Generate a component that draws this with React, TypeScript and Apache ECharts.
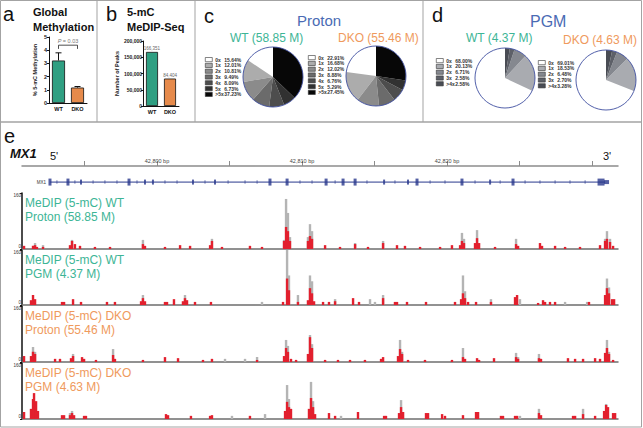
import React, { useEffect, useRef } from 'react';
import * as echarts from 'echarts';

// ---------------- data ----------------
const methCategories = ['WT', 'DKO'];
const methMeans = [3.22, 1.17];
const methUpper = [3.8, 1.25];
const methPValue = '0.03';
const methBracket = [4.1, 4.38];

const peakCategories = ['WT', 'DKO'];
const peakCounts = [166351, 84404];

const protonNames = ['0x', '1x', '2x', '3x', '4x', '5x', '>5x'];
const protonWT = [15.64, 12.01, 10.81, 9.49, 8.09, 6.73, 37.23];
const protonDKO = [22.91, 16.68, 12.02, 8.88, 6.76, 5.29, 27.45];
const pgmNames = ['0x', '1x', '2x', '3x', '>4x'];
const pgmWT = [68.0, 20.13, 6.71, 2.58, 2.58];
const pgmDKO = [69.01, 18.53, 6.48, 2.7, 3.28];

// genomic axis, offsets from 42,800
const genomeOrigin = 42800;
const genomeRange = [-9.31, 31.79];
const rulerTicks = [-5, 0, 5, 10, 15, 20, 25, 30];
const rulerLabels = [0, 10, 20];

const geneSpan = [-7.38, 30.9];
const majorExons = [-7.38, -6.14, -1.93, 7.79, 8.97, 11.66, 12.83, 13.66, 17.93, 21.03, 24.55];
const minorExons = [-5.24, -0.83, -0.28, 2.48, 4.0, 15.66, 17.31, 22.97];
const utrBlocks = [30.62];
const utrTail = [31.0];
const intronMarks = [-6.9, -5.66, -4.41, -3.59, -2.76, -1.38, 0.55, 1.38, 3.31, 4.9, 6.07, 6.9, 9.86, 10.69, 12.28, 14.48, 16.41, 18.83, 19.86, 21.93, 23.66, 25.38, 26.41, 27.45, 28.48, 29.52];

// [position, red signal, grey signal]
const wtProtonPeaks: number[][] = [
  [-9.17, 9, 0], [-8.55, 9, 0], [-8.41, 11, 17], [-8.28, 6, 0], [-7.86, 6, 11],
  [-6.0, 11, 0], [-5.86, 23, 26], [-5.66, 14, 0], [-5.31, 9, 0], [-4.28, 6, 0],
  [-3.24, 6, 0], [-0.97, 14, 26], [-0.83, 9, 0], [0.55, 6, 0], [1.59, 11, 0],
  [2.28, 9, 0], [3.66, 11, 0], [3.79, 23, 29], [4.48, 6, 0], [6.41, 9, 0],
  [7.24, 6, 0], [8.76, 23, 26], [8.9, 63, 143], [9.03, 51, 103], [9.17, 23, 34],
  [10.41, 23, 34], [10.55, 37, 71], [10.69, 29, 51], [11.59, 11, 0], [12.62, 6, 0],
  [13.66, 14, 17], [14.55, 6, 0], [15.59, 17, 23], [16.55, 11, 0], [17.1, 9, 0],
  [18.14, 6, 0], [19.52, 6, 0], [20.34, 11, 0], [20.9, 11, 0], [21.03, 23, 46],
  [21.17, 17, 29], [21.93, 17, 0], [22.07, 31, 54], [22.21, 17, 0], [23.31, 6, 0],
  [24.76, 14, 29], [24.9, 9, 0], [26.41, 17, 0], [26.55, 9, 0], [27.45, 9, 0],
  [28.14, 6, 0], [29.17, 6, 0], [30.55, 11, 0], [30.9, 23, 29], [31.03, 29, 51],
  [31.24, 20, 29], [31.45, 9, 0],
];
const wtPgmPeaks: number[][] = [
  [-8.69, 14, 0], [-8.55, 29, 0], [-8.41, 17, 0], [-6.55, 9, 0], [-6.41, 9, 0],
  [-5.79, 17, 0], [-5.24, 9, 0], [-3.45, 9, 0], [-2.9, 9, 0], [-1.1, 11, 0],
  [-0.97, 20, 29], [-0.83, 11, 0], [0.55, 9, 0], [0.69, 9, 0], [1.17, 17, 0],
  [1.79, 11, 0], [1.93, 20, 29], [2.07, 14, 0], [2.62, 9, 0], [3.72, 9, 0],
  [7.24, 0, 9], [8.69, 9, 0], [8.97, 77, 160], [9.1, 43, 86], [9.72, 9, 29],
  [10.41, 14, 0], [10.55, 49, 86], [10.69, 34, 69], [10.83, 11, 0], [11.45, 9, 0],
  [11.86, 9, 0], [12.28, 11, 17], [13.52, 20, 0], [13.93, 9, 0], [14.69, 0, 17],
  [15.03, 0, 9], [15.59, 20, 29], [16.41, 9, 0], [16.55, 9, 0], [17.24, 9, 0],
  [18.55, 9, 0], [20.55, 9, 0], [20.97, 17, 0], [21.1, 34, 86], [21.24, 20, 40],
  [21.45, 9, 0], [22.0, 9, 0], [23.03, 9, 17], [24.69, 23, 0], [24.83, 29, 0],
  [25.03, 0, 17], [26.28, 6, 0], [26.62, 14, 0], [26.76, 9, 0], [27.1, 9, 0],
  [27.45, 9, 0], [28.14, 0, 9], [29.66, 0, 9], [29.79, 9, 0], [30.9, 29, 0],
  [31.03, 49, 77], [31.17, 34, 51], [31.38, 17, 0], [31.52, 17, 0],
];
const dkoProtonPeaks: number[][] = [
  [-9.17, 17, 0], [-8.69, 17, 0], [-8.55, 29, 43], [-8.41, 23, 29], [-7.03, 9, 0],
  [-6.69, 9, 0], [-5.93, 11, 0], [-5.79, 17, 23], [-5.17, 14, 0], [-5.03, 9, 0],
  [-4.21, 6, 0], [-3.03, 20, 37], [-2.9, 9, 0], [-0.97, 6, 0], [0.55, 14, 0],
  [1.45, 11, 0], [3.17, 6, 0], [3.79, 9, 0], [4.69, 0, 9], [6.07, 0, 9],
  [6.9, 6, 14], [8.76, 17, 0], [8.9, 40, 63], [9.03, 29, 46], [9.24, 9, 0],
  [9.59, 6, 0], [10.41, 23, 0], [10.55, 71, 77], [10.69, 40, 51], [11.59, 6, 0],
  [12.48, 6, 0], [13.31, 6, 0], [14.34, 6, 0], [15.45, 9, 0], [15.59, 14, 0],
  [16.62, 17, 0], [16.76, 37, 63], [16.9, 23, 29], [17.31, 6, 0], [18.48, 6, 0],
  [20.34, 6, 0], [21.1, 14, 40], [21.24, 9, 0], [22.07, 11, 0], [22.21, 6, 0],
  [23.24, 11, 0], [24.76, 14, 26], [24.9, 9, 14], [26.34, 11, 23], [26.48, 9, 0],
  [28.34, 11, 0], [28.83, 9, 0], [29.38, 9, 0], [30.21, 11, 0], [30.55, 9, 0],
  [30.9, 26, 0], [31.03, 40, 63], [31.17, 23, 29], [31.45, 6, 0],
];
const dkoPgmPeaks: number[][] = [
  [-9.17, 20, 0], [-8.69, 29, 0], [-8.55, 57, 0], [-8.48, 74, 0], [-8.34, 51, 0],
  [-8.21, 23, 0], [-6.55, 11, 0], [-6.41, 11, 0], [-6.0, 11, 17], [-5.86, 17, 23],
  [-5.72, 11, 0], [-5.03, 9, 0], [-4.9, 9, 0], [0.62, 14, 0], [0.76, 11, 0],
  [2.34, 9, 0], [3.66, 9, 0], [3.79, 11, 0], [5.17, 0, 9], [6.41, 9, 0],
  [7.45, 0, 14], [8.83, 23, 0], [8.97, 49, 97], [9.1, 34, 57], [9.24, 29, 0],
  [10.48, 29, 0], [10.62, 60, 106], [10.76, 34, 51], [10.9, 14, 0], [11.86, 17, 0],
  [12.28, 9, 0], [12.69, 0, 9], [13.86, 20, 0], [15.66, 9, 0], [15.79, 9, 0],
  [16.69, 17, 0], [16.83, 34, 54], [16.97, 20, 0], [18.55, 17, 0], [18.69, 17, 0],
  [19.66, 14, 0], [19.86, 9, 0], [21.1, 11, 0], [22.0, 20, 0], [22.14, 20, 0],
  [23.72, 9, 0], [23.86, 9, 0], [24.69, 9, 0], [24.83, 9, 0], [25.03, 0, 9],
  [26.34, 17, 29], [26.48, 11, 0], [28.69, 9, 0], [28.83, 9, 0], [29.38, 14, 29],
  [30.21, 9, 0], [30.83, 23, 0], [30.97, 40, 43], [31.1, 34, 0], [31.45, 17, 0],
  [31.59, 17, 0],
];
const trackMax = 160;
const trackTitles = [
  ['MeDIP (5-mC) WT', 'Proton (58.85 M)'],
  ['MeDIP (5-mC) WT', 'PGM (4.37 M)'],
  ['MeDIP (5-mC) DKO', 'Proton (55.46 M)'],
  ['MeDIP (5-mC) DKO', 'PGM (4.63 M)'],
];

// ---------------- styles ----------------
const FONT = '"Liberation Sans", Arial, Helvetica, sans-serif';
const WT_BAR = '#2f9f82';
const DKO_BAR = '#e68a4b';
const WT_TEXT = '#3db596';
const DKO_TEXT = '#ef9a5d';
const TITLE_BLUE = '#4a6bb4';
const GENE_BLUE = '#28378c';
const SIG_RED = '#e2202e';
const SIG_GRAY = '#b4b4b4';
const BORDER = '#a3a3a3';
const protonColors = ['#ffffff', '#acacac', '#8b8b8b', '#6b6b6b', '#4d4d4d', '#313131', '#070707'];
const pgmColors = ['#ffffff', '#a9abb0', '#85888f', '#5d6068', '#494c54'];

const trackTops = [193, 250, 306, 363];
const trackHeights = [56, 55, 56, 56];
const allTracks = [wtProtonPeaks, wtPgmPeaks, dkoProtonPeaks, dkoPgmPeaks];
const trackColors = [WT_TEXT, WT_TEXT, DKO_TEXT, DKO_TEXT];

function txt(text: string, x: number, y: number, font: string, fill = '#111', align = 'left') {
  return { type: 'text', x, y, silent: true, style: { text, font, fill, align, verticalAlign: 'middle' } };
}

function pieLegend(names: string[], pct: number[], colors: string[], left: number, top: number) {
  return {
    orient: 'vertical', left, top, padding: 0, itemGap: 0.6, itemWidth: 7, itemHeight: 4.2,
    selectedMode: false, icon: 'rect',
    itemStyle: { borderColor: '#333', borderWidth: 0.6 },
    data: names.map((n, i) => ({ name: n, itemStyle: { color: colors[i], borderColor: '#333', borderWidth: 0.6 } })),
    formatter: (name: string) => `{n|${name}}{v|${pct[names.indexOf(name)].toFixed(2)}%}`,
    textStyle: {
      fontFamily: FONT, fontSize: 5, fontWeight: 'bold', color: '#333', lineHeight: 5.2, padding: [0, 0, 0, -2],
      rich: {
        n: { width: 9, fontSize: 5, fontWeight: 'bold', color: '#333', fontFamily: FONT },
        v: { fontSize: 5, fontWeight: 'bold', color: '#333', fontFamily: FONT },
      },
    },
  };
}

function pieSeries(names: string[], values: number[], colors: string[], center: number[]) {
  return [
    {
      type: 'pie', radius: 30, center, startAngle: 90, clockwise: false, silent: true,
      label: { show: false }, labelLine: { show: false },
      data: names.map((n, i) => ({ name: n, value: values[i], itemStyle: { color: colors[i] } })),
      itemStyle: { borderWidth: 0 },
    },
    {
      type: 'pie', radius: 30, center, silent: true, label: { show: false }, labelLine: { show: false },
      data: [{ name: 'outline', value: 1, itemStyle: { color: 'rgba(0,0,0,0)', borderColor: '#3f4fa0', borderWidth: 0.9 } }],
    },
  ];
}

function buildOption(): any {
  const trackGrids = trackTops.map((t, i) => ({ left: 22, top: t, width: 596, height: trackHeights[i] }));
  const trackX = trackTops.map((_, i) => ({
    type: 'value', gridIndex: 3 + i, min: genomeRange[0], max: genomeRange[1],
    axisLine: { show: true, onZero: false, lineStyle: { color: '#6e6e6e', width: 1.5 } },
    axisTick: { show: false }, axisLabel: { show: false }, splitLine: { show: false },
  }));
  const trackY = trackTops.map((_, i) => ({
    type: 'value', gridIndex: 3 + i, min: 0, max: trackMax, interval: trackMax,
    axisLine: { show: true, onZero: false, lineStyle: { color: '#111', width: 1.5 } },
    axisTick: { show: true, length: 2, lineStyle: { color: '#111' } },
    axisLabel: {
      fontSize: 4.5, color: '#333', margin: 1, fontFamily: FONT,
      verticalAlignMinLabel: 'bottom', verticalAlignMaxLabel: 'top',
    },
    splitLine: { show: false },
  }));
  const trackSeries: any[] = [];
  allTracks.forEach((peaks, i) => {
    trackSeries.push({
      type: 'bar', xAxisIndex: 3 + i, yAxisIndex: 3 + i, barWidth: 2.4, barGap: '-100%', silent: true,
      itemStyle: { color: SIG_GRAY }, data: peaks.filter(p => p[2] > 0).map(p => [p[0], p[2]]),
    });
    trackSeries.push({
      type: 'bar', xAxisIndex: 3 + i, yAxisIndex: 3 + i, barWidth: 2.4, barGap: '-100%', silent: true,
      itemStyle: { color: SIG_RED }, data: peaks.filter(p => p[1] > 0).map(p => [p[0], p[1]]),
    });
  });

  const trackLabels: any[] = [];
  trackTops.forEach((t, i) => {
    trackLabels.push(txt(trackTitles[i][0], 25, t + 10, `12px ${FONT}`, trackColors[i]));
    trackLabels.push(txt(trackTitles[i][1], 25, t + 24, `12px ${FONT}`, trackColors[i]));
  });

  const gAxis = { axisLine: { show: true, onZero: false, lineStyle: { color: '#111', width: 1 } }, splitLine: { show: false } };

  return {
    animation: false,
    backgroundColor: '#fff',
    textStyle: { fontFamily: FONT },
    grid: [
      { left: 49, top: 37, width: 38, height: 66 },
      { left: 143, top: 41, width: 36, height: 65 },
      { left: 22, top: 166, width: 596, height: 24 },
      ...trackGrids,
    ],
    xAxis: [
      {
        type: 'category', gridIndex: 0, data: methCategories, ...gAxis,
        axisTick: { show: false },
        axisLabel: { fontSize: 5.5, fontWeight: 'bold', color: '#111', margin: 3 },
      },
      {
        type: 'category', gridIndex: 1, data: peakCategories, ...gAxis,
        axisTick: { show: false },
        axisLabel: { fontSize: 5.5, fontWeight: 'bold', color: '#111', margin: 3 },
      },
      {
        type: 'value', gridIndex: 2, position: 'top', min: genomeRange[0], max: genomeRange[1],
        axisLine: { show: true, onZero: false, lineStyle: { color: '#8c8c8c', width: 1.5 } },
        axisTick: { show: true, customValues: rulerTicks, length: 5, lineStyle: { color: '#8c8c8c', width: 1 } },
        axisLabel: {
          customValues: rulerLabels, fontSize: 5.5, color: '#444', margin: 2,
          formatter: (v: number) => `${(genomeOrigin + v).toLocaleString('en-US')} bp`,
        },
        splitLine: { show: false },
      },
      ...trackX,
    ],
    yAxis: [
      {
        type: 'value', gridIndex: 0, min: 0, max: 5, interval: 1, ...gAxis,
        axisTick: { show: true, length: 2, lineStyle: { color: '#111' } },
        axisLabel: { fontSize: 5.5, fontWeight: 'bold', color: '#222', margin: 2 },
        name: '% 5-mC Methylation', nameLocation: 'middle', nameGap: 11,
        nameTextStyle: { fontSize: 5.5, fontWeight: 'bold', color: '#222' },
      },
      {
        type: 'value', gridIndex: 1, min: 0, max: 200000, interval: 50000, ...gAxis,
        axisTick: { show: true, length: 2, lineStyle: { color: '#111' } },
        axisLabel: { fontSize: 5, fontWeight: 'bold', color: '#222', margin: 1, formatter: (v: number) => v.toLocaleString('en-US') },
        name: 'Number of Peaks', nameLocation: 'middle', nameGap: 23,
        nameTextStyle: { fontSize: 5.5, fontWeight: 'bold', color: '#222' },
      },
      { type: 'value', gridIndex: 2, min: 0, max: 1, show: false },
      ...trackY,
    ],
    legend: [
      pieLegend(protonNames, protonWT, protonColors, 205, 57),
      pieLegend(protonNames, protonDKO, protonColors, 308, 55),
      pieLegend(pgmNames, pgmWT, pgmColors, 436, 58),
      pieLegend(pgmNames, pgmDKO, pgmColors, 538, 60),
    ],
    series: [
      {
        type: 'bar', xAxisIndex: 0, yAxisIndex: 0, barWidth: 13, silent: true,
        data: methMeans.map((v, i) => ({ value: v, itemStyle: { color: i === 0 ? WT_BAR : DKO_BAR, borderColor: '#111', borderWidth: 0.8 } })),
      },
      {
        type: 'custom', xAxisIndex: 0, yAxisIndex: 0, silent: true, z: 5,
        data: methMeans.map((m, i) => [i, m, methUpper[i]]),
        encode: { x: 0, y: [1, 2] },
        renderItem: (params: any, api: any) => {
          const lo = api.coord([api.value(0), api.value(1)]);
          const hi = api.coord([api.value(0), api.value(2)]);
          const st = { stroke: '#111', lineWidth: 1 };
          return {
            type: 'group', children: [
              { type: 'line', shape: { x1: lo[0], y1: lo[1], x2: hi[0], y2: hi[1] }, style: st },
              { type: 'line', shape: { x1: hi[0] - 3, y1: hi[1], x2: hi[0] + 3, y2: hi[1] }, style: st },
            ],
          };
        },
      },
      {
        type: 'custom', xAxisIndex: 0, yAxisIndex: 0, silent: true, z: 5,
        data: [[0, 1, methBracket[0], methBracket[1]]],
        encode: { x: [0, 1], y: [2, 3] },
        renderItem: (params: any, api: any) => {
          const a0 = api.coord([api.value(0), api.value(2)]);
          const a1 = api.coord([api.value(0), api.value(3)]);
          const b1 = api.coord([api.value(1), api.value(3)]);
          const b0 = api.coord([api.value(1), api.value(2)]);
          return {
            type: 'group', children: [
              { type: 'polyline', shape: { points: [a0, a1, b1, b0] }, style: { stroke: '#222', lineWidth: 0.8, fill: 'none' } },
              {
                type: 'text', style: {
                  text: `{i|P} = ${methPValue}`, x: (a1[0] + b1[0]) / 2, y: a1[1] - 1.5, align: 'center', verticalAlign: 'bottom',
                  fill: '#777', font: `5.5px ${FONT}`, rich: { i: { fontStyle: 'italic', fontSize: 5.5, fill: '#777' } },
                },
              },
            ],
          };
        },
      },
      {
        type: 'bar', xAxisIndex: 1, yAxisIndex: 1, barWidth: 12, silent: true,
        label: { show: true, position: 'top', fontSize: 4.5, color: '#666', distance: 1, formatter: (p: any) => p.value.toLocaleString('en-US') },
        data: peakCounts.map((v, i) => ({ value: v, itemStyle: { color: i === 0 ? WT_BAR : DKO_BAR, borderColor: '#111', borderWidth: 0.8 } })),
      },
      ...pieSeries(protonNames, protonWT, protonColors, [273, 77]),
      ...pieSeries(protonNames, protonDKO, protonColors, [376, 76]),
      ...pieSeries(pgmNames, pgmWT, pgmColors, [505, 78]),
      ...pieSeries(pgmNames, pgmDKO, pgmColors, [606, 80]),
      {
        type: 'line', xAxisIndex: 2, yAxisIndex: 2, silent: true, symbol: 'none',
        lineStyle: { color: GENE_BLUE, width: 1 }, data: geneSpan.map(x => [x, 0.33]),
      },
      {
        type: 'scatter', xAxisIndex: 2, yAxisIndex: 2, silent: true, symbol: 'rect', symbolSize: [0.8, 3.5],
        itemStyle: { color: GENE_BLUE }, data: intronMarks.map(x => [x, 0.33]),
      },
      {
        type: 'scatter', xAxisIndex: 2, yAxisIndex: 2, silent: true, symbol: 'rect', symbolSize: [3, 7],
        itemStyle: { color: GENE_BLUE }, data: majorExons.map(x => [x, 0.33]),
      },
      {
        type: 'scatter', xAxisIndex: 2, yAxisIndex: 2, silent: true, symbol: 'rect', symbolSize: [2, 5],
        itemStyle: { color: GENE_BLUE }, data: minorExons.map(x => [x, 0.33]),
      },
      {
        type: 'scatter', xAxisIndex: 2, yAxisIndex: 2, silent: true, symbol: 'rect', symbolSize: [7, 7],
        itemStyle: { color: GENE_BLUE }, data: utrBlocks.map(x => [x, 0.33]),
      },
      {
        type: 'scatter', xAxisIndex: 2, yAxisIndex: 2, silent: true, symbol: 'rect', symbolSize: [5, 4],
        itemStyle: { color: GENE_BLUE }, data: utrTail.map(x => [x, 0.33]),
      },
      ...trackSeries,
    ],
    graphic: [
      { type: 'rect', silent: true, shape: { x: 0.5, y: 0.5, width: 641, height: 121.5 }, style: { fill: 'none', stroke: BORDER, lineWidth: 1 } },
      { type: 'line', silent: true, shape: { x1: 97, y1: 0, x2: 97, y2: 122 }, style: { stroke: BORDER, lineWidth: 1 } },
      { type: 'line', silent: true, shape: { x1: 195, y1: 0, x2: 195, y2: 122 }, style: { stroke: BORDER, lineWidth: 1 } },
      { type: 'line', silent: true, shape: { x1: 423, y1: 0, x2: 423, y2: 122 }, style: { stroke: BORDER, lineWidth: 1 } },
      { type: 'rect', silent: true, shape: { x: 0.5, y: 122, width: 641, height: 305 }, style: { fill: 'none', stroke: BORDER, lineWidth: 1 } },
      txt('a', 3, 14, `20px ${FONT}`),
      txt('Global', 33, 12, `bold 11px ${FONT}`),
      txt('Methylation', 33, 27, `bold 11px ${FONT}`),
      txt('b', 106, 14, `20px ${FONT}`),
      txt('5-mC', 127, 12, `bold 11px ${FONT}`),
      txt('MeDIP-Seq', 127, 27, `bold 11px ${FONT}`),
      txt('c', 204, 16, `20px ${FONT}`),
      txt('Proton', 297, 20, `15px ${FONT}`, TITLE_BLUE),
      txt('WT (58.85 M)', 230, 38, `12px ${FONT}`, WT_TEXT),
      txt('DKO (55.46 M)', 338, 38, `12px ${FONT}`, DKO_TEXT),
      txt('d', 432, 15, `20px ${FONT}`),
      txt('PGM', 530, 21, `16px ${FONT}`, TITLE_BLUE),
      txt('WT (4.37 M)', 466, 38, `12px ${FONT}`, WT_TEXT),
      txt('DKO (4.63 M)', 563, 40, `12px ${FONT}`, DKO_TEXT),
      txt('e', 4, 136, `20px ${FONT}`),
      txt('MX1', 10, 153, `italic bold 13px ${FONT}`),
      txt("5'", 50, 156, `11px ${FONT}`),
      txt("3'", 603, 156, `11px ${FONT}`),
      txt('MX1', 46, 182, `4.5px ${FONT}`, '#333', 'right'),
      ...trackLabels,
    ],
  };
}

export default function App() {
  const ref = useRef<HTMLDivElement>(null);
  useEffect(() => {
    const chart = echarts.init(ref.current as HTMLDivElement, null, { renderer: 'svg' });
    chart.setOption(buildOption());
    return () => chart.dispose();
  }, []);
  return <div ref={ref} style={{ position: 'absolute', left: 0, top: 0, width: 643, height: 428, background: '#fff' }} />;
}
